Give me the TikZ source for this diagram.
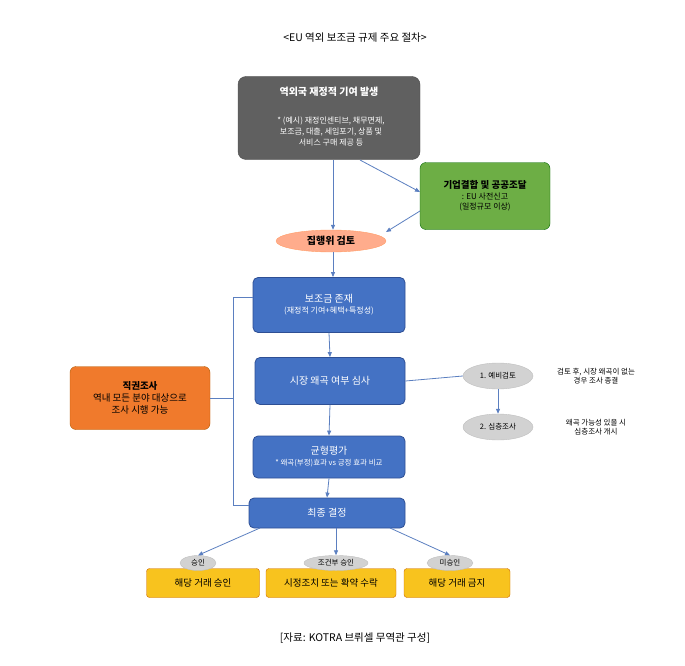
\documentclass[tikz,border=0pt]{standalone}
\usepackage{fontspec}
\setmainfont{Noto Sans CJK KR}
\usetikzlibrary{shapes.geometric,arrows.meta}
\definecolor{ln}{HTML}{5B7FC0}
\definecolor{bl}{HTML}{4472C4}
\definecolor{bld}{HTML}{2E4F94}
\definecolor{gr}{HTML}{6DAE45}
\definecolor{yl}{HTML}{F8C31E}
\definecolor{og}{HTML}{F07A2C}
\tikzset{
 bbox/.style={rounded corners=5pt,fill=bl,draw=bld,line width=0.8pt,text=white,align=center,font=\fontsize{10}{12}\selectfont},
 con/.style={draw=ln,line width=0.8pt},
 arr/.style={con,-{Triangle[length=5pt,width=4pt]}},
 gel/.style={ellipse,fill=gray!35,draw=gray!50,font=\fontsize{7.5}{9}\selectfont,inner sep=1pt},
 ybox/.style={rounded corners=3pt,fill=yl,draw=orange!80!black,font=\fontsize{9.5}{11}\selectfont},
 note/.style={font=\fontsize{7.5}{9.5}\selectfont,align=center},
}
\begin{document}
\begin{tikzpicture}[x=1pt,y=-1pt]
\useasboundingbox (0,0) rectangle (685,666);
\node (title) at (355,38) {\fontsize{10.5}{12}\selectfont<EU 역외 보조금 규제 주요 절차>};
\node (gray) [rounded corners=8pt,fill=gray!75!black,draw=gray!60!black,minimum width=182pt,minimum height=83pt] at (329,118) {};
\node (gtit) [text=white,font=\bfseries\fontsize{10}{12}\selectfont] at (329,92) {역외국 재정적 기여 발생};
\node (gtxt) [text=white,align=center,font=\fontsize{8}{11}\selectfont] at (331,132) {* (예시) 재정인센티브, 채무면제,\\보조금, 대출, 세입포기, 상품 및\\서비스 구매 제공 등};
\node (green) [rounded corners=6pt,fill=gr,draw=green!40!black,minimum width=130pt,minimum height=67pt,align=center,font=\fontsize{8}{10.5}\selectfont] at (485,196) {{\bfseries\fontsize{9.5}{12}\selectfont 기업결합 및 공공조달}\\: EU 사전신고\\(일정규모 이상)};
\node (comm) [ellipse,fill=orange!55!red!45,draw=orange!70!red!60,minimum width=110pt,minimum height=22pt,inner sep=0pt,font=\bfseries\fontsize{10}{12}\selectfont] at (331,241) {집행위 검토};
\node (b1) [bbox,minimum width=152pt,minimum height=55pt] at (329,305) {보조금 존재\\[-1pt]{\fontsize{8}{10}\selectfont(재정적 기여+혜택+특정성)}};
\node (b2) [bbox,minimum width=150pt,minimum height=47pt] at (330,381) {시장 왜곡 여부 심사};
\node (b3) [bbox,minimum width=152pt,minimum height=42pt] at (329,457) {균형평가\\[-1pt]{\fontsize{7.5}{9}\selectfont * 왜곡(부정)효과 vs 긍정 효과 비교}};
\node (b4) [bbox,minimum width=156pt,minimum height=30pt] at (327,513) {최종 결정};
\node (ex) [rounded corners=6pt,fill=og,draw=orange!70!black,minimum width=140pt,minimum height=63pt,align=center,font=\fontsize{9.5}{12}\selectfont] at (140,398) {{\bfseries 직권조사}\\역내 모든 분야 대상으로\\조사 시행 가능};
\node (e1) [gel,minimum width=70pt,minimum height=26pt] at (498,376) {1. 예비검토};
\node (e2) [gel,minimum width=70pt,minimum height=26pt] at (498,427) {2. 심층조사};
\node (n1) [note] at (596,376) {검토 후, 시장 왜곡이 없는\\경우 조사 종결};
\node (n2) [note] at (596,427) {왜곡 가능성 있을 시\\심층조사 개시};
\node (y1) [ybox,minimum width=113pt,minimum height=29pt] at (203,583) {해당 거래 승인};
\node (y2) [ybox,minimum width=130pt,minimum height=29pt] at (331,583) {시정조치 또는 확약 수락};
\node (y3) [ybox,minimum width=106pt,minimum height=29pt] at (457,583) {해당 거래 금지};
\node (s1) [gel,minimum width=36pt,minimum height=15pt] at (198,563) {승인};
\node (s2) [gel,minimum width=64pt,minimum height=15pt] at (336,563) {조건부 승인};
\node (s3) [gel,minimum width=46pt,minimum height=15pt] at (450,563) {미승인};
\node (src) at (355,638) {\fontsize{10.5}{12}\selectfont[자료: KOTRA 브뤼셀 무역관 구성]};
% connectors
\coordinate (gb) at (333,160);
\coordinate (ga) at (360,160);
\coordinate (gi) at (420,192);
\coordinate (go) at (420,211);
\coordinate (ci) at (386,232);
\draw[arr] (gb) -- (comm.north -| gb);
\draw[arr] (comm.south -| gb) -- (b1.north -| gb);
\draw[arr] (ga) -- (gi);
\draw[arr] (go) -- (ci);
\draw[arr] (b1.south) -- (b2.north);
\draw[arr] (b2.south) -- (b3.north);
\draw[arr] (b3.south) -- (b4.north);
\draw[con] (b2.east) -- (e1.west);
\draw[arr] (e1.south) -- (e2.north);
\coordinate (bt) at (233,297);
\coordinate (bb) at (233,505);
\draw[con] (b1.west |- bt) -- (bt) -- (bb) -- (b4.west |- bb);
\draw[con] (ex.east) -- (ex.east -| bt);
\coordinate (d1) at (260,528);
\coordinate (d2) at (336,528);
\coordinate (d3) at (390,528);
\draw[arr] (d1) -- (s1.north);
\draw[arr] (d2) -- (s2.north);
\draw[arr] (d3) -- (s3.north);
\end{tikzpicture}
\end{document}
